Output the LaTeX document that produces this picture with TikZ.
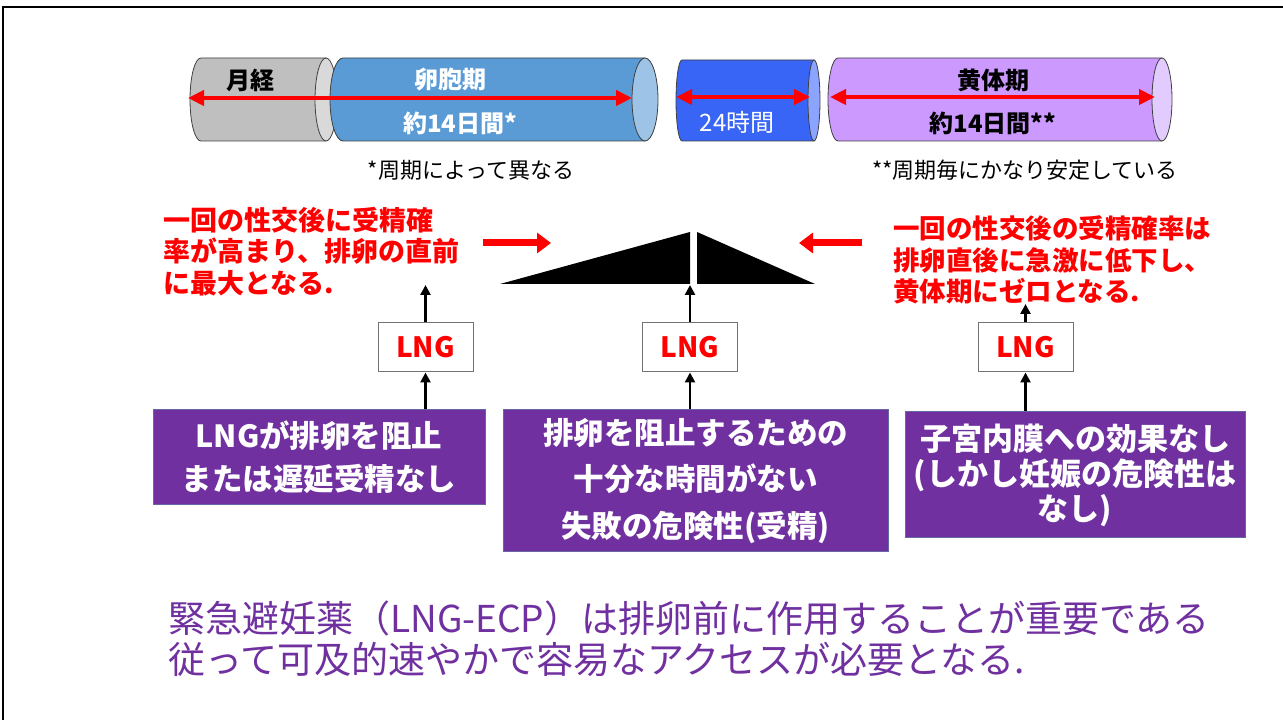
\documentclass[tikz,border=0pt]{standalone}
\usepackage{fontspec}
\setmainfont{Noto Sans CJK JP}
\newfontfamily\jp{Noto Sans CJK JP}
\usetikzlibrary{arrows.meta}
\definecolor{cgray}{HTML}{BFBFBF}
\definecolor{cgrayf}{HTML}{D9D9D9}
\definecolor{cblue}{HTML}{5B9BD5}
\definecolor{cbluef}{HTML}{9DC3E6}
\definecolor{cdeep}{HTML}{3865F5}
\definecolor{cdeepf}{HTML}{8AA4FF}
\definecolor{clil}{HTML}{CC99FF}
\definecolor{clilf}{HTML}{E2CCFF}
\definecolor{cpurp}{HTML}{7030A0}
\definecolor{cred}{HTML}{FF0000}
\newcommand\drawcyl[7]{%
  \pgfmathsetmacro\cyry{(#3-#4)/2}%
  \pgfmathsetmacro\cymid{(#3+#4)/2}%
  \filldraw[fill=#6, draw=black!75, line width=0.8] (#1+#5,#3) -- (#2-#5,#3) -- (#2-#5,#4) -- (#1+#5,#4)
     arc[start angle=270,end angle=90,x radius=#5,y radius=\cyry] -- cycle;
  \filldraw[fill=#7, draw=black!75, line width=0.8] (#2-#5,\cymid) ellipse[x radius=#5, y radius=\cyry];
}
\tikzset{
  cyltxt/.style={font=\jp\bfseries\fontsize{24}{28}\selectfont, inner sep=0},
  spanarrow/.style={draw=cred, line width=4, {Triangle[length=16,width=15]}-{Triangle[length=16,width=15]}},
  caption/.style={font=\jp\fontsize{22}{26}\selectfont, inner sep=0},
  redtxt/.style={font=\jp\bfseries\fontsize{27}{31.5}\selectfont, text=cred, align=left, anchor=west, inner sep=0},
  blockarrow/.style={draw=cred, line width=7, -{Triangle[length=14,width=20]}},
  lngbox/.style={draw=black!55, fill=white, line width=1, minimum width=95, minimum height=49, inner sep=0,
     font=\jp\bfseries\fontsize{28}{32}\selectfont, text=cred},
  pbox/.style={draw=black!60!blue!60, fill=cpurp, line width=1, inner sep=0, text=white, align=center},
  uparrow/.style={draw=black, line width=2.5, -{Triangle[length=10,width=10]}},
}
\begin{document}
\begin{tikzpicture}[x=1pt,y=1pt]
\useasboundingbox (0,0) rectangle (1283,720);
\fill[white] (0,0) rectangle (1283,720);
\draw[line width=2] (3,0) -- (3,713) -- (1283,713);

% cylinders
\drawcyl{190}{337}{662}{579}{11}{cgray}{cgrayf}
\drawcyl{330}{658}{662}{579}{13}{cblue}{cbluef}
\drawcyl{676}{820}{660}{579}{6}{cdeep}{cdeepf}
\drawcyl{828}{1172}{662}{579}{10}{clil}{clilf}

\node[cyltxt] (men) at (250,640) {月経};
\node[cyltxt, text=white] (fol) at (450,640) {卵胞期};
\node[cyltxt, text=white] (fold) at (460,597) {約14日間*};
\node[cyltxt, text=white, font=\jp\fontsize{24}{28}\selectfont] (h24) at (737,598) {24時間};
\node[cyltxt] (lut) at (993,640) {黄体期};
\node[cyltxt] (lutd) at (993,597) {約14日間**};

\coordinate (a1) at (188,622); \coordinate (a2) at (632,622);
\coordinate (b1) at (676,623); \coordinate (b2) at (810,623);
\coordinate (c1) at (830,623); \coordinate (c2) at (1155,623);
\draw[spanarrow] (a1) -- (a2);
\draw[spanarrow] (b1) -- (b2);
\draw[spanarrow] (c1) -- (c2);

\node[caption] (cap1) at (471,550) {*周期によって異なる};
\node[caption] (cap2) at (1025,550) {**周期毎にかなり安定している};

% red texts
\node[redtxt] (rl) at (163,468.5) {一回の性交後に受精確\\率が高まり、排卵の直前\\に最大となる.};
\node[redtxt, font=\jp\bfseries\fontsize{26.5}{31.5}\selectfont] (rr) at (893,460) {一回の性交後の受精確率は\\排卵直後に急激に低下し、\\黄体期にゼロとなる.};

\coordinate (ra1) at (483,477); \coordinate (ra2) at (551,477);
\coordinate (rb1) at (862,477); \coordinate (rb2) at (799,477);
\draw[blockarrow] (ra1) -- (ra2);
\draw[blockarrow] (rb1) -- (rb2);

% wedge
\fill[black] (500,436) -- (690,488) -- (690,436) -- cycle;
\fill[black] (697,488) -- (697,436) -- (815,436) -- cycle;

% LNG boxes
\node[lngbox] (l1) at (425.5,372.5) {LNG};
\node[lngbox] (l2) at (690,372.5) {LNG};
\node[lngbox] (l3) at (1025.5,372.5) {LNG};

% purple boxes
\node[pbox, minimum width=332, minimum height=95, font=\jp\bfseries\fontsize{30.5}{43}\selectfont] (p1) at (319,262.5)
  {LNGが排卵を阻止\\または遅延受精なし};
\node[pbox, minimum width=385, minimum height=142, font=\jp\bfseries\fontsize{30.5}{46.5}\selectfont] (p2) at (695.5,239)
  {排卵を阻止するための\\十分な時間がない\\失敗の危険性(受精)};
\node[pbox, minimum width=340, minimum height=126, font=\jp\bfseries\fontsize{31}{35}\selectfont] (p3) at (1075,245)
  {子宮内膜への効果なし\\(しかし妊娠の危険性は\\なし)};

\coordinate (t1) at (425.5,435);
\coordinate (t2) at (690,435);
\coordinate (t3) at (1025.5,416);
\draw[uparrow] (l1 |- p1.north) -- (l1.south);
\draw[uparrow] (l2 |- p2.north) -- (l2.south);
\draw[uparrow] (l3 |- p3.north) -- (l3.south);
\draw[uparrow] (l1.north) -- (t1);
\draw[uparrow] (l2.north) -- (t2);
\draw[uparrow] (l3.north) -- (t3);

% bottom text
\node[anchor=west, inner sep=0, align=left, text=cpurp, font=\jp\fontsize{37}{41}\selectfont] (bt) at (168,81.5)
  {緊急避妊薬（LNG-ECP）は排卵前に作用することが重要である\\従って可及的速やかで容易なアクセスが必要となる.};
\end{tikzpicture}
\end{document}
